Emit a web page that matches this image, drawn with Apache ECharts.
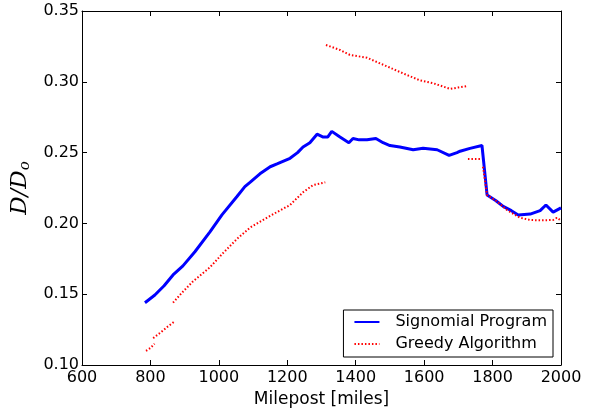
<!DOCTYPE html>
<html>
<head>
<meta charset="utf-8">
<script src="https://cdn.jsdelivr.net/npm/echarts@6/dist/echarts.min.js"></script>
<style>
  html, body { margin: 0; padding: 0; background: #fff; }
  #chart { width: 595px; height: 408px; }
</style>
</head>
<body>
<div id="chart"></div>
<script>
// Signomial Program (blue solid)
const spX = [784, 813, 840, 866, 895, 930, 974, 1009, 1053, 1076, 1091, 1120, 1150, 1170, 1208, 1230, 1246, 1266, 1287, 1305, 1318, 1330, 1354, 1380, 1392, 1410, 1433, 1459, 1480, 1500, 1529, 1568, 1597, 1638, 1673, 1696, 1705, 1734, 1769, 1784, 1810, 1831, 1855, 1875, 1910, 1939, 1956, 1977, 2000];
const spY = [0.144, 0.1494, 0.156, 0.1636, 0.170, 0.180, 0.194, 0.206, 0.219, 0.226, 0.229, 0.235, 0.240, 0.242, 0.246, 0.250, 0.254, 0.257, 0.263, 0.261, 0.261, 0.265, 0.261, 0.257, 0.260, 0.259, 0.259, 0.260, 0.257, 0.255, 0.254, 0.252, 0.253, 0.252, 0.248, 0.250, 0.251, 0.253, 0.255, 0.220, 0.216, 0.212, 0.209, 0.206, 0.2066, 0.209, 0.213, 0.208, 0.211];

// Greedy Algorithm (red dotted), pieces split by gaps
const gaSegX = [
  [787, 800, 812],
  [808, 830, 850, 872],
  [866, 892, 924, 974, 1012, 1053, 1091, 1126, 1170, 1208, 1246, 1275, 1311],
  [1313, 1354, 1383, 1433, 1471, 1500, 1538, 1588, 1626, 1676, 1700, 1725],
  [1728, 1750, 1769],
  [1772, 1784, 1810, 1842, 1880, 1910, 1940, 1977, 1988, 2000]
];
const gaSegY = [
  [0.110, 0.112, 0.115],
  [0.119, 0.123, 0.127, 0.131],
  [0.144, 0.151, 0.159, 0.169, 0.179, 0.189, 0.197, 0.202, 0.208, 0.213, 0.222, 0.227, 0.229],
  [0.326, 0.3225, 0.319, 0.317, 0.313, 0.310, 0.306, 0.301, 0.299, 0.295, 0.296, 0.297],
  [0.2455, 0.2455, 0.2455],
  [0.240, 0.220, 0.216, 0.2095, 0.204, 0.2024, 0.2022, 0.2024, 0.204, 0.202]
];

const xTicks = [600, 800, 1000, 1200, 1400, 1600, 1800, 2000];
const yTicks = [0.10, 0.15, 0.20, 0.25, 0.30, 0.35];

const spData = spX.map((x, i) => [x, spY[i]]);
const gaData = [];
gaSegX.forEach((seg, s) => {
  if (s > 0) gaData.push([seg[0] - 0.5, null]);
  seg.forEach((x, i) => gaData.push([x, gaSegY[s][i]]));
});

const font = 'DejaVu Sans';
const axisLine = { show: true, lineStyle: { color: '#000', width: 1 } };
const tick = { show: true, inside: true, length: 5, lineStyle: { color: '#000' } };

const chart = echarts.init(document.getElementById('chart'));
chart.setOption({
  animation: false,
  grid: { left: 82, right: 34, top: 11, bottom: 43, outerBoundsMode: 'none' },
  xAxis: [{
    type: 'value', min: xTicks[0], max: xTicks[xTicks.length - 1], interval: 200,
    name: 'Milepost [miles]', nameLocation: 'middle', nameGap: 18,
    nameTextStyle: { fontFamily: font, fontSize: 17, color: '#000' },
    axisLine: axisLine, axisTick: tick, splitLine: { show: false },
    axisLabel: { fontFamily: font, fontSize: 16, color: '#000', margin: 5, formatter: v => String(v) }
  }, {
    type: 'value', min: xTicks[0], max: xTicks[xTicks.length - 1], interval: 200, position: 'top',
    axisLine: axisLine, axisTick: tick, splitLine: { show: false },
    axisLabel: { show: false }
  }],
  yAxis: [{
    type: 'value', min: yTicks[0], max: yTicks[yTicks.length - 1], interval: 0.05,
    name: '{a|D/D}{b|o}', nameLocation: 'middle', nameGap: 48, nameRotate: 90,
    nameTextStyle: {
      rich: {
        a: { fontFamily: 'DejaVu Serif', fontStyle: 'italic', fontSize: 23, color: '#000' },
        b: { fontFamily: 'DejaVu Serif', fontStyle: 'italic', fontSize: 15, color: '#000', padding: [10, 0, 0, 0] }
      }
    },
    axisLine: axisLine, axisTick: tick, splitLine: { show: false },
    axisLabel: { fontFamily: font, fontSize: 16, color: '#000', margin: 3, formatter: v => v.toFixed(2) }
  }, {
    type: 'value', min: yTicks[0], max: yTicks[yTicks.length - 1], interval: 0.05, position: 'right',
    axisLine: axisLine, axisTick: tick, splitLine: { show: false },
    axisLabel: { show: false }
  }],
  legend: {
    orient: 'vertical', right: 42, bottom: 51,
    padding: [4, 6, 5, 10], itemGap: 6, itemWidth: 25, itemHeight: 14,
    borderColor: '#000', borderWidth: 1, borderRadius: 0,
    itemStyle: { opacity: 0 },
    textStyle: { fontFamily: font, fontSize: 16, color: '#000', padding: [0, 0, 0, 11] },
    data: ['Signomial Program', 'Greedy Algorithm']
  },
  series: [{
    name: 'Signomial Program', type: 'line', data: spData,
    showSymbol: false, symbol: 'none',
    lineStyle: { color: '#0000ff', width: 3 }, itemStyle: { color: '#0000ff' }
  }, {
    name: 'Greedy Algorithm', type: 'line', data: gaData,
    showSymbol: false, symbol: 'none', connectNulls: false,
    lineStyle: { color: '#ff0000', width: 2, type: [1.5, 2] }, itemStyle: { color: '#ff0000' }
  }]
});
</script>
</body>
</html>
